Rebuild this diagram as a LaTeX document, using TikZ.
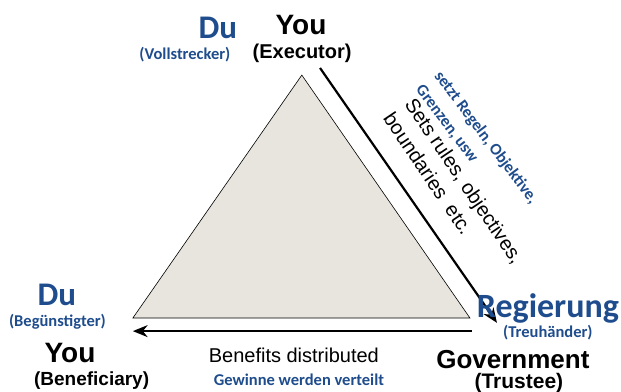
\documentclass[tikz,border=0pt]{standalone}
\usepackage{fontspec}
\setmainfont{Liberation Sans}
\newfontfamily\calibri{Carlito}
\usepackage{tikz}
\usetikzlibrary{arrows.meta}
\definecolor{DeBlue}{RGB}{30,76,140}
\definecolor{TriFill}{RGB}{232,229,222}

\begin{document}
\begin{tikzpicture}[
  enlbl/.style={font=\fontsize{28}{30}\selectfont\bfseries},
  ensub/.style={font=\fontsize{20}{22}\selectfont\bfseries},
  delbl/.style={font=\fontsize{33}{35}\selectfont\calibri\bfseries,text=DeBlue},
  desub/.style={font=\fontsize{16.5}{18}\selectfont\calibri\bfseries,text=DeBlue},
  flow/.style={line width=2.2pt,-{Stealth[length=5.2mm,width=4.2mm]}},
]
\useasboundingbox (0,0) rectangle (21.83,13.78);
% the triangle
\coordinate (top) at (10.61,11.14);
\coordinate (bl) at (4.67,2.60);
\coordinate (br) at (16.52,2.60);
\filldraw[fill=TriFill,draw=black,line width=0.6pt] (top) -- (br) -- (bl) -- cycle;
% arrows
\coordinate (rulesA) at (11.25,11.39);
\coordinate (rulesB) at (17.47,2.43);
\coordinate (benA) at (16.59,2.14);
\coordinate (benB) at (4.67,2.14);
\draw[flow] (rulesA) -- (rulesB);
\draw[flow] (benA) -- (benB);
% executor
\node[delbl] (duT) at (7.66,12.79) {Du};
\node[desub] (duTsub) at (6.50,11.85) {(Vollstrecker)};
\node[enlbl] (youT) at (10.58,12.90) {You};
\node[ensub] (youTsub) at (10.62,11.92) {(Executor)};
% beneficiary
\node[delbl] (duL) at (2.00,3.42) {Du};
\node[desub] (duLsub) at (2.02,2.46) {(Begünstigter)};
\node[enlbl] (youL) at (2.46,1.37) {You};
\node[ensub,font=\fontsize{19}{21}\selectfont\bfseries] (youLsub) at (3.22,0.40) {(Beneficiary)};
% trustee
\node[delbl,font=\fontsize{34}{36}\selectfont\calibri\bfseries] (regR) at (19.26,2.95) {Regierung};
\node[desub] (regRsub) at (19.26,2.07) {(Treuhänder)};
\node[enlbl,font=\fontsize{26}{28}\selectfont\bfseries] (govR) at (18.03,1.14) {Government};
\node[ensub,font=\fontsize{21}{23}\selectfont\bfseries] (govRsub) at (18.24,0.32) {(Trustee)};
% edge labels
\node[font=\fontsize{20}{26}\selectfont,align=left,rotate=-56] (rules) at (15.95,7.17)
  {Sets rules, objectives,\\boundaries~ etc.};
\node[desub,align=left,rotate=-53,font=\fontsize{16.5}{23}\selectfont\calibri\bfseries] (regeln) at (16.76,8.70)
  {setzt Regeln, Objektive,\\Grenzen, usw};
\node[font=\fontsize{20}{24}\selectfont] (benefits) at (10.33,1.30) {Benefits distributed};
\node[desub] (gewinne) at (10.51,0.42) {Gewinne werden verteilt};
\end{tikzpicture}
\end{document}
